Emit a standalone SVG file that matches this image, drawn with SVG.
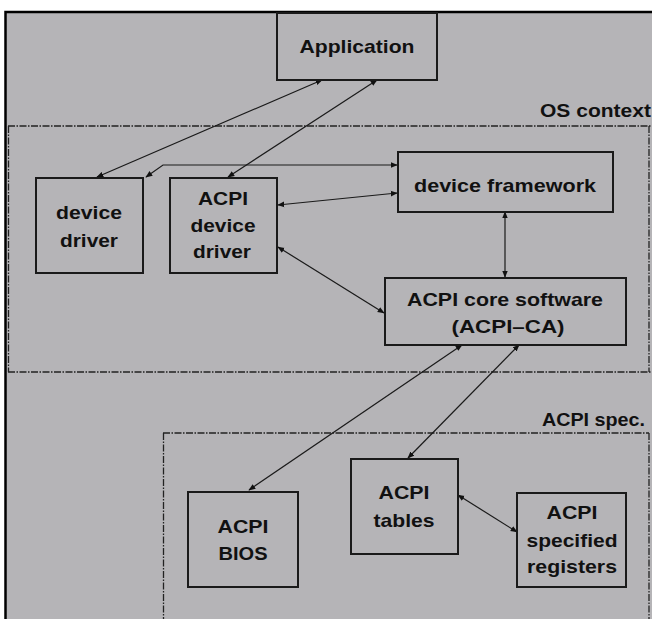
<svg xmlns="http://www.w3.org/2000/svg" width="652" height="619" viewBox="0 0 652 619">
<style>
.bg{fill:#b5b4b7}
.box{fill:none;stroke:#1a1a1a;stroke-width:2}
.t{font-family:"Liberation Sans",Arial,sans-serif;font-weight:bold;font-size:19px;fill:#111;text-anchor:middle}
.lbl{font-family:"Liberation Sans",Arial,sans-serif;font-weight:bold;font-size:19px;fill:#111}
.dot{fill:none;stroke:#222;stroke-width:1.3;stroke-dasharray:7 1.5 1.5 1.5}
.c{fill:none;stroke:#1a1a1a;stroke-width:1.2;marker-start:url(#ah);marker-end:url(#ah)}
</style>
<defs>
<marker id="ah" viewBox="0 0 10 10" refX="9" refY="5" markerWidth="7" markerHeight="7" markerUnits="userSpaceOnUse" orient="auto-start-reverse">
<path d="M0,1 L10,5 L0,9 z" fill="#111"/>
</marker>
</defs>
<rect x="0" y="0" width="652" height="619" fill="#fff"/>
<rect class="bg" x="5" y="12" width="647" height="607"/>
<path d="M5.5,619 V12 H652" fill="none" stroke="#000" stroke-width="2.5"/>

<g id="regions">
<path class="dot" d="M8,126 H652 M8,372 H652 M8.5,126 V372 M649,126 V372"/>
<path class="dot" d="M163,433 H649 M163.5,433 V619 M649,433 V619"/>
<text class="lbl" x="540" y="117" textLength="111" lengthAdjust="spacingAndGlyphs">OS context</text>
<text class="lbl" x="542" y="426" textLength="103" lengthAdjust="spacingAndGlyphs">ACPI spec.</text>
</g>

<g id="connectors">
<line class="c" x1="322" y1="80" x2="97" y2="177"/>
<line class="c" x1="377" y1="80" x2="228" y2="177"/>
<polyline class="c" points="397,165 163,165 146,177"/>
<line class="c" x1="278" y1="205" x2="397" y2="193"/>
<line class="c" x1="278" y1="247" x2="384" y2="313"/>
<line class="c" x1="505" y1="212" x2="505" y2="277"/>
<line class="c" x1="462" y1="345" x2="249" y2="490"/>
<line class="c" x1="519" y1="345" x2="408" y2="458"/>
<line class="c" x1="458" y1="495" x2="517" y2="532"/>
</g>

<g id="application">
<rect class="box" x="277" y="13" width="160" height="67"/>
<text class="t" x="357" y="53" textLength="115" lengthAdjust="spacingAndGlyphs">Application</text>
</g>

<g id="device-driver">
<rect class="box" x="36" y="178" width="107" height="95"/>
<text class="t" x="89" y="219" textLength="66" lengthAdjust="spacingAndGlyphs">device</text>
<text class="t" x="89" y="247" textLength="58" lengthAdjust="spacingAndGlyphs">driver</text>
</g>

<g id="acpi-device-driver">
<rect class="box" x="170" y="178" width="107" height="95"/>
<text class="t" x="223" y="205" textLength="50" lengthAdjust="spacingAndGlyphs">ACPI</text>
<text class="t" x="223" y="232" textLength="65" lengthAdjust="spacingAndGlyphs">device</text>
<text class="t" x="222" y="258" textLength="58" lengthAdjust="spacingAndGlyphs">driver</text>
</g>

<g id="device-framework">
<rect class="box" x="398" y="152" width="215" height="60"/>
<text class="t" x="505" y="192" textLength="182" lengthAdjust="spacingAndGlyphs">device framework</text>
</g>

<g id="acpi-core">
<rect class="box" x="385" y="278" width="241" height="67"/>
<text class="t" x="505" y="306" textLength="196" lengthAdjust="spacingAndGlyphs">ACPI core software</text>
<text class="t" x="508" y="333" textLength="113" lengthAdjust="spacingAndGlyphs">(ACPI–CA)</text>
</g>

<g id="acpi-bios">
<rect class="box" x="188" y="492" width="110" height="95"/>
<text class="t" x="243" y="533" textLength="51" lengthAdjust="spacingAndGlyphs">ACPI</text>
<text class="t" x="243" y="560" textLength="49" lengthAdjust="spacingAndGlyphs">BIOS</text>
</g>

<g id="acpi-tables">
<rect class="box" x="351" y="459" width="107" height="95"/>
<text class="t" x="404" y="499" textLength="51" lengthAdjust="spacingAndGlyphs">ACPI</text>
<text class="t" x="404" y="527" textLength="61" lengthAdjust="spacingAndGlyphs">tables</text>
</g>

<g id="acpi-registers">
<rect class="box" x="517" y="493" width="109" height="94"/>
<text class="t" x="572" y="519" textLength="51" lengthAdjust="spacingAndGlyphs">ACPI</text>
<text class="t" x="572" y="547" textLength="91" lengthAdjust="spacingAndGlyphs">specified</text>
<text class="t" x="572" y="573" textLength="90" lengthAdjust="spacingAndGlyphs">registers</text>
</g>
</svg>
